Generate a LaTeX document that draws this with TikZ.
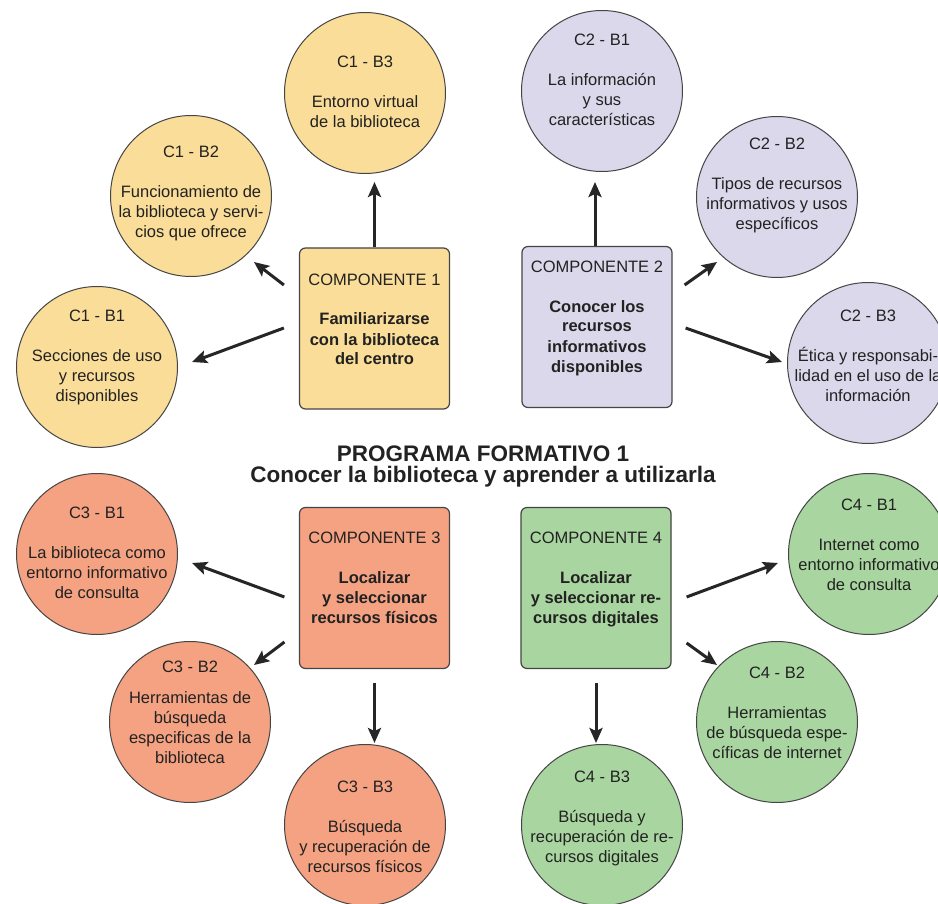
\documentclass[tikz,border=0pt]{standalone}
\usepackage{fontspec}
\setmainfont{Liberation Sans}
\usetikzlibrary{arrows.meta,calc}
\definecolor{cyel}{HTML}{FADD98}
\definecolor{clav}{HTML}{DAD8EA}
\definecolor{csal}{HTML}{F4A282}
\definecolor{cgrn}{HTML}{A9D5A0}
\definecolor{cline}{HTML}{454545}
\definecolor{ctxt}{HTML}{222222}
\tikzset{
  circ/.style={circle, draw=cline, line width=1pt, minimum size=161pt, inner sep=0pt},
  ctext/.style={anchor=base, align=center, inner sep=0pt, text=ctxt, font=\fontsize{16.5}{20}\selectfont},
  compbox/.style={rectangle, rounded corners=6pt, draw=cline, line width=1.2pt, minimum width=150pt, minimum height=161pt, inner sep=0pt},
  btext/.style={anchor=base, align=center, inner sep=0pt, text=ctxt, font=\fontsize{16.5}{20}\selectfont},
  ttext/.style={anchor=base, align=center, inner sep=0pt, text=ctxt, font=\fontsize{22.5}{21}\selectfont\bfseries},
  arr/.style={-{Stealth[length=15pt,width=13pt,inset=3pt]}, line width=3pt, draw=black!85},
}
\begin{document}
\begin{tikzpicture}[x=1pt,y=-1pt]
\useasboundingbox (0,0) rectangle (938,904);
\fill[white] (0,0) rectangle (938,904);
\begin{scope}
\clip (0,0) rectangle (938,904);

% ---- Component boxes
\node[compbox, fill=cyel] (k1) at (374.5,328.5) {};
\node[compbox, fill=clav] (k2) at (597,327) {};
\node[compbox, fill=csal] (k3) at (374.5,588) {};
\node[compbox, fill=cgrn] (k4) at (596,588) {};

% (base anchor = baseline of the last line)
\node[btext] (b1) at ($(k1)+(0,36.5)$) {COMPONENTE 1\\[20pt]\textbf{Familiarizarse}\\\textbf{con la biblioteca}\\\textbf{del centro}};
\node[btext] (b2) at ($(k2)+(0,45)$) {COMPONENTE 2\\[20pt]\textbf{Conocer los}\\\textbf{recursos}\\\textbf{informativos}\\\textbf{disponibles}};
\node[btext] (b3) at ($(k3)+(0,35)$) {COMPONENTE 3\\[20pt]\textbf{Localizar}\\\textbf{y seleccionar}\\\textbf{recursos físicos}};
\node[btext] (b4) at ($(k4)+(0,35)$) {COMPONENTE 4\\[20pt]\textbf{Localizar}\\\textbf{y seleccionar re-}\\\textbf{cursos digitales}};

% ---- Circles C1
\node[circ, fill=cyel] (c1b3) at (365,93) {};
\node[circ, fill=cyel] (c1b2) at (191,196) {};
\node[circ, fill=cyel] (c1b1) at (97,367) {};
\node[ctext] (t1b3) at ($(c1b3)+(0,35)$) {C1 - B3\\[20pt]Entorno virtual\\de la biblioteca};
\node[ctext] (t1b2) at ($(c1b2)+(0,42)$) {C1 - B2\\[20pt]Funcionamiento de\\la biblioteca y servi-\\cios que ofrece};
\node[ctext] (t1b1) at ($(c1b1)+(0,34)$) {C1 - B1\\[20pt]Secciones de uso\\y recursos\\disponibles};

% ---- Circles C2
\node[circ, fill=clav] (c2b1) at (602,91) {};
\node[circ, fill=clav] (c2b2) at (777,197) {};
\node[circ, fill=clav] (c2b3) at (868,363) {};
\node[ctext] (t2b1) at ($(c2b1)+(0,35)$) {C2 - B1\\[20pt]La información\\y sus\\características};
\node[ctext] (t2b2) at ($(c2b2)+(0,33)$) {C2 - B2\\[20pt]Tipos de recursos\\informativos y usos\\específicos};
\node[ctext] (t2b3) at ($(c2b3)+(0,38)$) {C2 - B3\\[20pt]Ética y responsabi-\\lidad en el uso de la\\información};

% ---- Circles C3
\node[circ, fill=csal] (c3b1) at (97,554) {};
\node[circ, fill=csal] (c3b2) at (190,722) {};
\node[circ, fill=csal] (c3b3) at (365,825) {};
\node[ctext] (t3b1) at ($(c3b1)+(0,44)$) {C3 - B1\\[20pt]La biblioteca como\\entorno informativo\\de consulta};
\node[ctext] (t3b2) at ($(c3b2)+(0,41)$) {C3 - B2\\[11pt]Herramientas de\\búsqueda\\especificas de la\\biblioteca};
\node[ctext] (t3b3) at ($(c3b3)+(0,47)$) {C3 - B3\\[20pt]Búsqueda\\y recuperación de\\recursos físicos};

% ---- Circles C4
\node[circ, fill=cgrn] (c4b1) at (869,554) {};
\node[circ, fill=cgrn] (c4b2) at (777,722) {};
\node[circ, fill=cgrn] (c4b3) at (602,825) {};
\node[ctext] (t4b1) at ($(c4b1)+(0,36)$) {C4 - B1\\[20pt]Internet como\\entorno informativo\\de consulta};
\node[ctext] (t4b2) at ($(c4b2)+(0,36)$) {C4 - B2\\[20pt]Herramientas\\de búsqueda espe-\\cíficas de internet};
\node[ctext] (t4b3) at ($(c4b3)+(0,37)$) {C4 - B3\\[20pt]Búsqueda y\\recuperación de re-\\cursos digitales};

% ---- Title
\node[ttext] (title) at (483,482) {PROGRAMA FORMATIVO 1\\Conocer la biblioteca y aprender a utilizarla};

% ---- Arrows
\draw[arr] (k1.north) -- ($(c1b3)+(9.5,89)$);
\draw[arr] ($(k1.west)+(-15,-43.5)$) -- ($(c1b2)+(63,66)$);
\draw[arr] ($(k1.west)+(-15,-0.5)$) -- ($(c1b1)+(95,-5)$);

\draw[arr] ($(k2.north)+(-2,0)$) -- ($(c2b1)+(-7,91)$);
\draw[arr] ($(k2.east)+(12,-42)$) -- ($(c2b2)+(-60,65)$);
\draw[arr] ($(k2.east)+(13,1)$) -- ($(c2b3)+(-86,-1)$);

\draw[arr] ($(k3.west)+(-14.5,9)$) -- ($(c3b1)+(95,9)$);
\draw[arr] ($(k3.west)+(-14.5,54)$) -- ($(c3b2)+(64,-57)$);
\draw[arr] ($(k3.south)+(0,13.5)$) -- ($(c3b3)+(9.5,-82)$);

\draw[arr] ($(k4.east)+(15,9)$) -- ($(c4b1)+(-91,9)$);
\draw[arr] ($(k4.east)+(15,55)$) -- ($(c4b2)+(-60,-57)$);
\draw[arr] ($(k4.south)+(0,13.5)$) -- ($(c4b3)+(-6,-82)$);
\end{scope}
\end{tikzpicture}
\end{document}
